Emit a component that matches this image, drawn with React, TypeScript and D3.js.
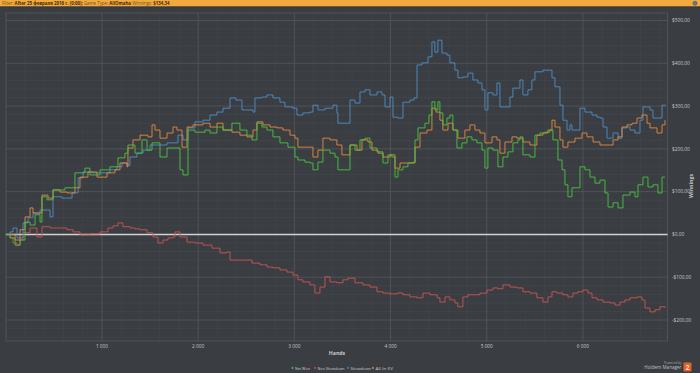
import React from "react";
import * as d3 from "d3";

// ---------- DATA ----------
const netWonHands = [0,44,96,148,200,252,304,356,376,428,491,615,719,823,875,979,1083,1166,1239,1270,1343,1416,1468,1520,1603,1676,1759,1811,1842,1894,1967,2071,2123,2195,2258,2351,2434,2507,2559,2611,2663,2715,2777,2850,2933,3006,3037,3110,3162,3193,3245,3297,3370,3422,3453,3526,3578,3630,3682,3734,3786,3859,3921,3973,4014,4046,4077,4129,4181,4233,4254,4285,4358,4399,4430,4461,4492,4513,4544,4586,4617,4648,4690,4742,4794,4846,4898,4950,4981,5012,5064,5116,5168,5220,5272,5324,5345,5376,5449,5501,5553,5605,5657,5688,5740,5782,5813,5844,5886,5938,5969,6021,6073,6125,6177,6229,6261,6313,6365,6416,6489,6541,6572,6624,6676,6728,6780,6822,6853];
const netWonValues = [0,-8,-25,-13,29,22,46,29,88,81,104,109,144,155,139,151,158,179,190,209,190,221,197,214,181,202,202,151,139,244,239,244,237,251,244,260,244,232,221,260,251,244,228,214,204,181,174,169,167,151,169,197,190,181,151,151,209,197,221,225,202,193,167,186,181,134,151,158,167,169,221,249,260,279,310,291,310,284,256,272,279,244,202,214,228,221,214,197,155,202,197,158,181,193,214,221,228,186,181,232,237,239,244,221,174,151,116,88,109,109,158,151,134,120,127,97,64,74,62,92,99,88,116,134,111,116,97,134,134];

const nonShowdownHands = [0,44,75,116,148,179,252,324,376,460,543,636,699,771,875,979,1062,1114,1166,1218,1291,1343,1395,1468,1530,1582,1634,1686,1738,1759,1811,1884,1967,2050,2143,2227,2300,2331,2414,2486,2559,2642,2715,2777,2850,2923,2985,3037,3089,3162,3214,3266,3318,3370,3442,3505,3557,3630,3713,3786,3859,3921,3994,4067,4129,4202,4275,4337,4410,4483,4513,4566,4617,4669,4700,4752,4804,4867,4929,5002,5064,5116,5168,5241,5314,5376,5449,5521,5584,5636,5678,5730,5792,5844,5896,5948,6000,6052,6094,6146,6209,6281,6334,6385,6437,6489,6562,6614,6645,6697,6749,6801,6853];
const nonShowdownValues = [0,-8,-20,-25,-13,4,15,-6,18,15,15,11,6,-1,1,6,15,20,27,18,15,13,11,4,-6,-20,-13,-8,-6,6,-6,-18,-20,-25,-32,-43,-41,-60,-60,-60,-67,-71,-76,-78,-83,-88,-95,-106,-111,-118,-137,-123,-99,-111,-113,-106,-102,-113,-118,-123,-134,-137,-139,-137,-141,-146,-148,-137,-141,-148,-158,-146,-153,-160,-169,-146,-141,-141,-137,-130,-125,-127,-118,-123,-125,-134,-137,-148,-158,-146,-134,-137,-141,-146,-137,-134,-130,-137,-148,-153,-158,-160,-165,-158,-153,-148,-146,-153,-172,-181,-176,-169,-172];

const showdownHands = [0,44,75,116,179,231,283,356,428,460,491,584,689,752,803,897,979,1083,1156,1208,1260,1291,1364,1426,1499,1603,1676,1738,1790,1842,1894,1967,2050,2123,2195,2258,2331,2393,2455,2518,2570,2590,2663,2715,2777,2850,2902,2985,3027,3089,3162,3193,3245,3318,3401,3442,3453,3526,3578,3630,3682,3734,3786,3859,3911,3942,3994,4025,4077,4129,4202,4243,4275,4327,4389,4430,4461,4492,4534,4586,4617,4669,4700,4752,4804,4856,4908,4950,4981,5012,5064,5106,5137,5189,5241,5272,5345,5376,5428,5469,5501,5584,5657,5678,5709,5761,5792,5834,5865,5886,5938,5969,6021,6094,6146,6177,6209,6250,6313,6365,6406,6458,6489,6541,6593,6624,6676,6697,6728,6780,6822,6863];
const showdownValues = [0,6,15,-8,27,39,50,57,57,41,88,85,97,132,146,144,144,151,158,167,162,181,190,197,209,209,214,214,232,221,249,263,267,279,286,295,319,314,291,291,286,319,321,326,319,309,298,295,279,284,286,302,291,295,302,284,260,260,314,307,333,338,326,333,326,298,321,274,272,309,314,319,396,401,415,450,426,454,424,419,401,384,366,368,377,361,354,338,291,331,326,354,298,298,321,342,361,326,338,361,380,384,384,366,345,302,267,244,256,244,244,295,286,279,274,272,251,225,237,225,249,251,244,237,267,298,298,291,272,272,302,302];

const allInEVHands = [0,96,148,200,252,283,376,439,491,563,636,719,771,854,948,1052,1135,1187,1260,1270,1322,1395,1478,1520,1551,1603,1676,1738,1779,1832,1884,1946,2050,2123,2195,2258,2351,2434,2507,2570,2611,2673,2746,2819,2881,2954,3006,3037,3131,3193,3245,3297,3370,3442,3494,3547,3578,3651,3703,3765,3807,3869,3921,3994,4046,4098,4171,4223,4254,4306,4379,4430,4472,4513,4544,4597,4648,4700,4773,4825,4877,4929,4981,5054,5106,5137,5189,5262,5314,5376,5449,5521,5584,5636,5678,5709,5761,5792,5844,5917,5990,6042,6105,6177,6250,6313,6365,6406,6458,6510,6562,6614,6666,6697,6770,6822,6853];
const allInEVValues = [0,-13,11,41,62,50,92,85,104,99,97,109,134,146,134,144,151,167,158,202,221,232,228,256,244,225,237,251,244,204,251,256,260,251,260,244,239,232,228,244,263,256,251,249,244,232,225,204,204,181,197,225,221,209,186,186,209,197,221,216,197,190,181,186,155,167,167,167,204,237,244,295,286,267,244,260,244,225,244,256,244,237,214,228,221,190,216,228,225,216,209,232,237,244,267,251,221,204,216,225,237,228,216,209,209,221,228,251,256,260,272,279,260,249,237,256,267];

const seriesNames = ["Net Won", "Non Showdown", "Showdown", "All-In EV"];
const seriesColors = ["#48c63f", "#cc5655", "#4f8fc8", "#e68b3c"];

const yTickValues = [-200, -100, 0, 100, 200, 300, 400, 500];
const xTickValues = [1000, 2000, 3000, 4000, 5000, 6000];

// ---------- LAYOUT ----------
const W = 700;
const H = 373;
const plotLeft = 6;
const plotRight = 667.6;
const plotTop = 13;
const plotBottom = 341;

const xScale = d3.scaleLinear().domain([0, 6880]).range([5.8, 667.6]);
const yScale = d3.scaleLinear().domain([-249, 517.5]).range([plotBottom, plotTop]);

const fmtMoney = (v: number) => (v < 0 ? "-$" : "$") + Math.abs(v).toFixed(2).replace(".", ",");
const fmtHands = (v: number) => d3.format(",")(v).replace(",", " ");

const lineGen = d3
  .line<[number, number]>()
  .x((d) => xScale(d[0]))
  .y((d) => yScale(d[1]))
  .curve(d3.curveStepAfter);

function zip(h: number[], v: number[]): [number, number][] {
  return h.map((x, i) => [x, v[i]]);
}

export default function App() {
  const font = "'Open Sans', 'Noto Sans', sans-serif";
  const series = [
    zip(netWonHands, netWonValues),
    zip(nonShowdownHands, nonShowdownValues),
    zip(showdownHands, showdownValues),
    zip(allInEVHands, allInEVValues),
  ];
  const drawOrder = [1, 2, 3, 0];

  const minorY = d3.range(-240, 520, 20).filter((v) => v % 100 !== 0);
  const majorY = d3.range(-200, 501, 100);
  const minorX = d3.range(200, 6880, 200).filter((v) => v % 1000 !== 0);
  const majorX = d3.range(1000, 6880, 1000);

  const legendItems = [
    { x: 292.5, tx: 295, len: 15 },
    { x: 315, tx: 317.5, len: 27 },
    { x: 348, tx: 350.5, len: 20.5 },
    { x: 373, tx: 375.5, len: 17.5 },
  ];

  return (
    <svg
      width={W}
      height={H}
      style={{ position: "absolute", left: 0, top: 0, display: "block" }}
      fontFamily={font}
    >
      <rect x={0} y={0} width={W} height={H} fill="#3a3d42" />
      {/* top filter bar */}
      <rect x={0} y={0} width={W} height={6.5} fill="#f2a93e" />
      <line x1={0} x2={W} y1={6.75} y2={6.75} stroke="#2c2e31" strokeWidth={0.5} />
      <text x={2} y={4.9} fontSize={4.4} fill="#3a2a10">
        <tspan fill="#6b5228">Filter: </tspan>
        <tspan fontWeight="bold">After 25 февраля 2016 г. (0:00); </tspan>
        <tspan fill="#6b5228">Game Type: </tspan>
        <tspan fontWeight="bold">AllOmaha </tspan>
        <tspan fill="#6b5228">Winnings: </tspan>
        <tspan fontWeight="bold">$134,34</tspan>
      </text>
      <circle cx={695} cy={3.3} r={2} fill="#5a7fa8" stroke="#2b3c52" strokeWidth={0.5} />

      {/* plot area */}
      <rect x={plotLeft} y={plotTop} width={plotRight - plotLeft} height={plotBottom - plotTop} fill="#3a3d42" />
      {minorY.map((v) => (
        <line key={"my" + v} x1={plotLeft} x2={plotRight} y1={yScale(v)} y2={yScale(v)} stroke="#44474c" strokeWidth={0.7} />
      ))}
      {minorX.map((v) => (
        <line key={"mx" + v} x1={xScale(v)} x2={xScale(v)} y1={plotTop} y2={plotBottom} stroke="#42454a" strokeWidth={0.7} />
      ))}
      {majorY.map((v) => (
        <line key={"My" + v} x1={plotLeft} x2={plotRight} y1={yScale(v)} y2={yScale(v)} stroke="#52555a" strokeWidth={0.9} />
      ))}
      {majorX.map((v) => (
        <line key={"Mx" + v} x1={xScale(v)} x2={xScale(v)} y1={plotTop} y2={plotBottom} stroke="#52555a" strokeWidth={0.9} />
      ))}
      <rect
        x={plotLeft}
        y={plotTop}
        width={plotRight - plotLeft}
        height={plotBottom - plotTop}
        fill="none"
        stroke="#55585d"
        strokeWidth={0.8}
      />

      {/* zero line */}
      <line x1={plotLeft} x2={plotRight} y1={yScale(0)} y2={yScale(0)} stroke="#d2d2d2" strokeWidth={1.6} />

      {/* series */}
      {drawOrder.map((i) => (
        <path
          key={seriesNames[i]}
          d={lineGen(series[i]) || ""}
          fill="none"
          stroke={seriesColors[i]}
          strokeWidth={0.9}
          strokeLinejoin="miter"
        />
      ))}

      {/* y axis labels (right) */}
      {yTickValues.map((v) => (
        <text key={"yl" + v} x={672} y={yScale(v) + 1.8} fontSize={4.8} fill="#c9cacc">
          {fmtMoney(v)}
        </text>
      ))}
      <text
        transform={`translate(692.5,186) rotate(-90)`}
        textAnchor="middle"
        fontSize={5.2}
        fontWeight="bold"
        fill="#c9cacc"
      >
        Winnings
      </text>

      {/* x axis labels */}
      {xTickValues.map((v) => (
        <text key={"xl" + v} x={xScale(v)} y={348} textAnchor="middle" fontSize={4.8} fill="#c9cacc">
          {fmtHands(v)}
        </text>
      ))}
      <text x={337} y={355} textAnchor="middle" fontSize={5.2} fontWeight="bold" fill="#c9cacc">
        Hands
      </text>

      {/* legend */}
      {seriesNames.map((name, i) => (
        <g key={"lg" + name}>
          <circle cx={legendItems[i].x} cy={368} r={1.4} fill={seriesColors[i]} stroke="#1f2124" strokeWidth={0.5} />
          <text
            x={legendItems[i].tx}
            y={369.6}
            fontSize={4.2}
            fill="#c9cacc"
            textLength={legendItems[i].len}
            lengthAdjust="spacingAndGlyphs"
          >
            {name}
          </text>
        </g>
      ))}

      {/* branding */}
      <text x={681.5} y={363.5} textAnchor="end" fontSize={3.2} fill="#a8a9ab">
        Powered by
      </text>
      <text x={681.5} y={368.5} textAnchor="end" fontSize={4.6} fill="#bfc0c2">
        Holdem Manager
      </text>
      <rect x={683.5} y={362.5} width={8} height={9} rx={1.2} fill="#e2622a" />
      <text x={687.5} y={369.8} textAnchor="middle" fontSize={6.5} fontWeight="bold" fill="#fbe9dc">
        2
      </text>
    </svg>
  );
}
